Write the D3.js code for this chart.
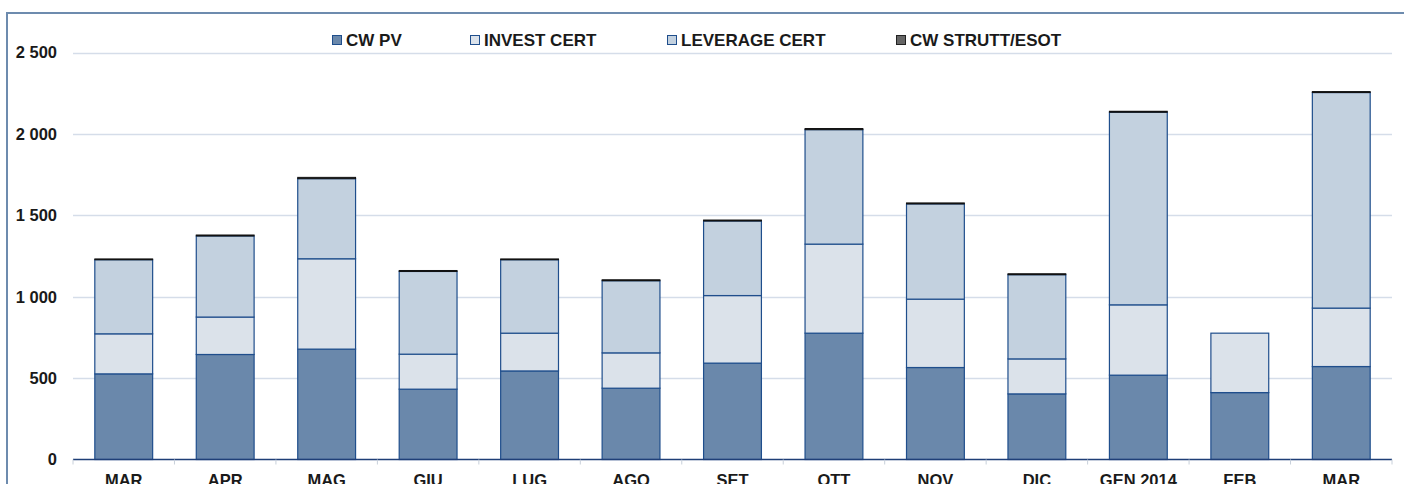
<!DOCTYPE html>
<html>
<head>
<meta charset="utf-8">
<script src="https://cdn.jsdelivr.net/npm/d3@7"></script>
<style>
	body { margin: 0; background: #fff; }
	svg { display: block; font-family: "Liberation Sans", Arial, sans-serif; }
	.tick-y { font-size: 16.5px; font-weight: bold; fill: #1a1a1a; }
	.tick-x { font-size: 16.5px; font-weight: bold; fill: #1a1a1a; }
	.legend-text { font-size: 17px; font-weight: bold; fill: #1a1a1a; }
</style>
</head>
<body>
<svg></svg>
<script>
const months = ["MAR", "APR", "MAG", "GIU", "LUG", "AGO", "SET", "OTT", "NOV", "DIC", "GEN 2014", "FEB", "MAR"];
const cwPv = [526, 645, 678, 432, 544, 438, 592, 776, 565, 403, 518, 411, 571];
const investCert = [246, 230, 555, 215, 232, 217, 415, 547, 420, 215, 432, 365, 359];
const leverageCert = [455, 498, 492, 508, 451, 443, 458, 703, 585, 517, 1183, 0, 1324];
const cwStrutt = [5, 6, 8, 6, 5, 6, 6, 7, 6, 6, 6, 0, 6];
const seriesNames = ["CW PV", "INVEST CERT", "LEVERAGE CERT", "CW STRUTT/ESOT"];
const yTicks = [0, 500, 1000, 1500, 2000, 2500];

const SVGsize = { w: 1404, h: 484 };
const plot = { l: 73, r: 1392, t: 52.5, b: 459.5 };
const colors = ["#6a88ab", "#dbe2ea", "#c3d1df", "#4a4a4a"];
const strokes = ["#1f4e8c", "#1f4e8c", "#1f4e8c", "#111"];

const svg = d3.select("svg").attr("width", SVGsize.w).attr("height", SVGsize.h);

// table for the stack
const table = months.map((m, i) => ({
	idx: i,
	month: m,
	"CW PV": cwPv[i],
	"INVEST CERT": investCert[i],
	"LEVERAGE CERT": leverageCert[i],
	"CW STRUTT/ESOT": cwStrutt[i],
}));
const stacked = d3.stack().keys(seriesNames)(table);

const scaleX = d3.scaleBand().domain(d3.range(months.length)).range([plot.l, plot.r]).paddingInner(0.43).paddingOuter(0.215);
const bandStep = scaleX.step();
const scaleY = d3.scaleLinear().domain([0, 2500]).range([plot.b, plot.t]);

// frame
svg.append("path")
	.attr("d", `M7,${SVGsize.h} V13 H${SVGsize.w}`)
	.attr("fill", "none")
	.attr("stroke", "#6d8bae")
	.attr("stroke-width", 2);

// gridlines
svg.append("g")
	.selectAll("line")
	.data(yTicks.filter((d) => d > 0))
	.join("line")
	.attr("x1", plot.l)
	.attr("x2", plot.r)
	.attr("y1", (d) => Math.round(scaleY(d)) + 0.5)
	.attr("y2", (d) => Math.round(scaleY(d)) + 0.5)
	.attr("stroke", "#d5dde9")
	.attr("stroke-width", 1.5);

// y labels
svg.append("g")
	.selectAll("text")
	.data(yTicks)
	.join("text")
	.attr("class", "tick-y")
	.attr("x", 57)
	.attr("y", (d) => scaleY(d))
	.attr("dy", "0.36em")
	.attr("text-anchor", "end")
	.text((d) => d3.format(",")(d).replace(/,/g, " "));

// bars
stacked.forEach((layer, k) => {
	svg.append("g")
		.selectAll("rect")
		.data(layer.filter((d) => d[1] - d[0] > 0))
		.join("rect")
		.attr("x", (d) => scaleX(d.data.idx))
		.attr("width", scaleX.bandwidth())
		.attr("y", (d) => scaleY(d[1]))
		.attr("height", (d) => scaleY(d[0]) - scaleY(d[1]))
		.attr("fill", colors[k])
		.attr("stroke", strokes[k])
		.attr("stroke-width", k == 3 ? 1 : 1.2);
});

// x axis line and ticks
svg.append("line")
	.attr("x1", plot.l)
	.attr("x2", plot.r)
	.attr("y1", plot.b)
	.attr("y2", plot.b)
	.attr("stroke", "#1f3f77")
	.attr("stroke-width", 1.5);

svg.append("g")
	.selectAll("line")
	.data(d3.range(months.length + 1))
	.join("line")
	.attr("x1", (i) => plot.l + i * bandStep)
	.attr("x2", (i) => plot.l + i * bandStep)
	.attr("y1", plot.b)
	.attr("y2", plot.b + 5)
	.attr("stroke", "#c8d0da")
	.attr("stroke-width", 1);

svg.append("g")
	.selectAll("text")
	.data(months)
	.join("text")
	.attr("class", "tick-x")
	.attr("x", (d, i) => scaleX(i) + scaleX.bandwidth() / 2)
	.attr("y", 486)
	.attr("text-anchor", "middle")
	.text((d) => d);

// legend
const legendX = [332, 470, 667, 896];
const legend = svg.append("g");
seriesNames.forEach((name, k) => {
	legend.append("rect")
		.attr("x", legendX[k] + 0.5)
		.attr("y", 35.5)
		.attr("width", 9)
		.attr("height", 9)
		.attr("fill", k == 3 ? "#666" : colors[k])
		.attr("stroke", k == 3 ? "#222" : "#1f4e8c")
		.attr("stroke-width", 1);
	legend.append("text")
		.attr("class", "legend-text")
		.attr("x", legendX[k] + 14)
		.attr("y", 46)
		.text(name);
});
</script>
</body>
</html>
